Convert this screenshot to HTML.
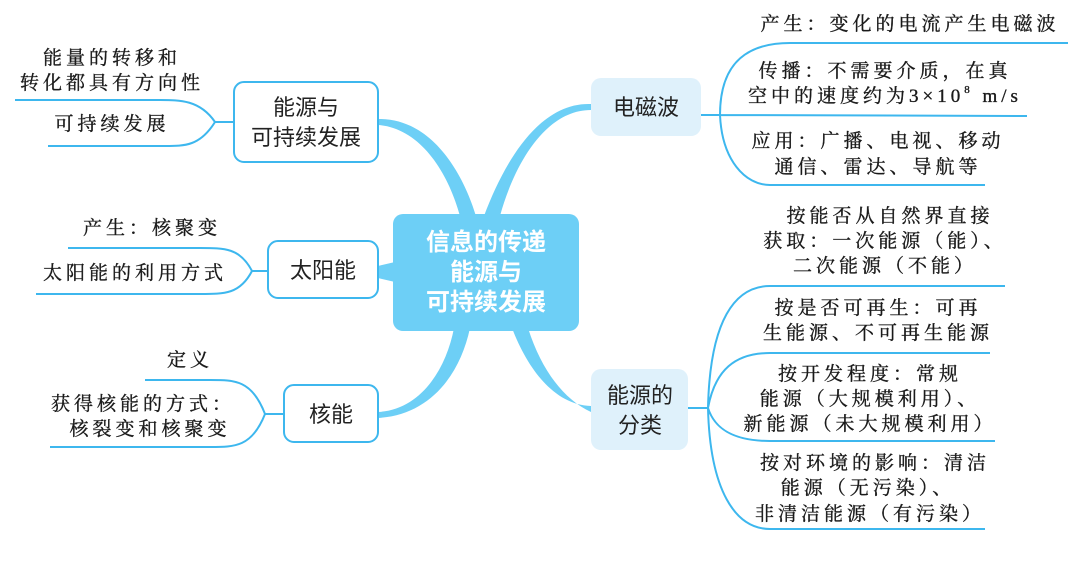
<!DOCTYPE html>
<html><head><meta charset="utf-8"><style>
html,body{margin:0;padding:0;background:#fff;}
svg{display:block}
.l{font-family:"Liberation Serif","Noto Serif CJK SC",serif;font-size:19px;fill:#1a1a1a;stroke:#1a1a1a;stroke-width:0.35;letter-spacing:4px}
.b{font-family:"Liberation Sans","Noto Sans CJK SC",sans-serif;font-size:22px;fill:#222}
.c{font-family:"Liberation Sans","Noto Sans CJK SC",sans-serif;font-size:24px;fill:#fff;font-weight:bold}
.t{fill:none;stroke:#3db7ee;stroke-width:2}
</style></head><body>
<svg width="1080" height="563" viewBox="0 0 1080 563">
<g fill="#6dcff6">
<path d="M378,119 C430,118 462,170 476,216 L460,216 C448,172 420,128 378,125 Z"/>
<path d="M591,104 C540,102 505,160 484,216 L500,216 C514,165 545,110 591,110 Z"/>
<path d="M378,266 L395,262 L395,282 L378,278 Z"/>
<path d="M378,412 C420,410 446,370 454,328 L470,328 C460,375 430,415 378,418 Z"/>
<path d="M591,406 C555,405 528,370 512,328 L528,328 C542,372 565,400 591,412 Z"/>
</g>
<rect x="393" y="214" width="186" height="117" rx="10" fill="#6dcff6"/>
<text class="c" text-anchor="middle" x="486" y="250">信息的传递</text>
<text class="c" text-anchor="middle" x="486" y="280">能源与</text>
<text class="c" text-anchor="middle" x="486" y="310">可持续发展</text>
<rect x="234" y="82" width="144" height="80" rx="10" fill="#fff" stroke="#3db7ee" stroke-width="2"/>
<text class="b" text-anchor="middle" x="306" y="115">能源与</text>
<text class="b" text-anchor="middle" x="306" y="145">可持续发展</text>
<rect x="268" y="241" width="110" height="57" rx="10" fill="#fff" stroke="#3db7ee" stroke-width="2"/>
<text class="b" text-anchor="middle" x="323" y="278">太阳能</text>
<rect x="284" y="385" width="94" height="57" rx="10" fill="#fff" stroke="#3db7ee" stroke-width="2"/>
<text class="b" text-anchor="middle" x="331" y="422">核能</text>
<rect x="591" y="78" width="110" height="58" rx="10" fill="#dff1fb"/>
<text class="b" text-anchor="middle" x="646" y="115">电磁波</text>
<rect x="591" y="369" width="97" height="81" rx="10" fill="#dff1fb"/>
<text class="b" text-anchor="middle" x="640" y="403">能源的</text>
<text class="b" text-anchor="middle" x="640" y="433">分类</text>
<path class="t" d="M234,122 L215,122 C200,100 180,100 160,100 L15,100 M215,122 C200,146 185,146 165,146 L48,146"/>
<path class="t" d="M268,271 L252,271 C240,248 225,248 200,248 L68,248 M252,271 C240,294 225,294 200,294 L36,294"/>
<path class="t" d="M284,414 L265,414 C252,380 235,380 210,380 L145,380 M265,414 C252,447 235,447 210,447 L50,447"/>
<path class="t" d="M701,115 L720,115 C720,60 750,43 790,43 L1068,43 M720,115 L1027,116 M720,115 C722,160 745,185 770,185 L985,185"/>
<path class="t" d="M688,408 L708,408 C710,320 735,286 770,286 L1005,286 M708,408 C715,370 735,353 770,353 L990,353 M708,408 C715,430 735,441 770,441 L995,441 M708,408 C710,490 735,529 770,529 L985,529"/>
<text class="l" text-anchor="middle" x="112" y="64">能量的转移和</text>
<text class="l" text-anchor="middle" x="112" y="89">转化都具有方向性</text>
<text class="l" text-anchor="middle" x="112" y="130">可持续发展</text>
<text class="l" text-anchor="middle" x="152" y="234">产生：核聚变</text>
<text class="l" text-anchor="middle" x="135" y="279">太阳能的利用方式</text>
<text class="l" text-anchor="middle" x="190" y="366">定义</text>
<text class="l" text-anchor="middle" x="143" y="410">获得核能的方式：</text>
<text class="l" text-anchor="middle" x="150" y="435">核裂变和核聚变</text>
<text class="l" text-anchor="middle" x="910" y="30">产生：变化的电流产生电磁波</text>
<text class="l" text-anchor="middle" x="885" y="77">传播：不需要介质，在真</text>
<text class="l" text-anchor="middle" x="885" y="102">空中的速度约为3×10<tspan font-size="11" dy="-9">8</tspan><tspan dy="9"> m/s</tspan></text>
<text class="l" text-anchor="middle" x="878" y="147">应用：广播、电视、移动</text>
<text class="l" text-anchor="middle" x="878" y="173">通信、雷达、导航等</text>
<text class="l" text-anchor="middle" x="890" y="222">按能否从自然界直接</text>
<text class="l" text-anchor="middle" x="885" y="247">获取：一次能源（能）、</text>
<text class="l" text-anchor="middle" x="885" y="272">二次能源（不能）</text>
<text class="l" text-anchor="middle" x="878" y="314">按是否可再生：可再</text>
<text class="l" text-anchor="middle" x="878" y="339">生能源、不可再生能源</text>
<text class="l" text-anchor="middle" x="870" y="380">按开发程度：常规</text>
<text class="l" text-anchor="middle" x="870" y="405">能源（大规模利用）、</text>
<text class="l" text-anchor="middle" x="870" y="430">新能源（未大规模利用）</text>
<text class="l" text-anchor="middle" x="875" y="469">按对环境的影响：清洁</text>
<text class="l" text-anchor="middle" x="868" y="494">能源（无污染）、</text>
<text class="l" text-anchor="middle" x="870" y="520">非清洁能源（有污染）</text>
</svg>
</body></html>
